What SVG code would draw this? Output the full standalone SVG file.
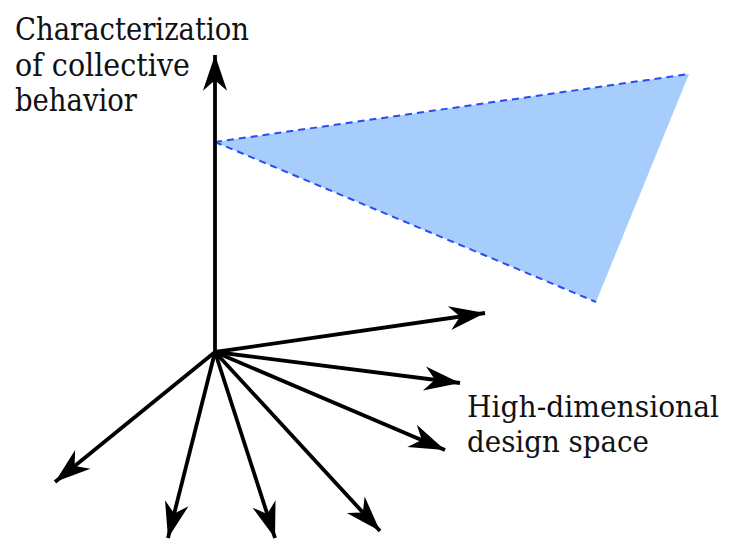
<svg xmlns="http://www.w3.org/2000/svg" width="732" height="540" viewBox="0 0 732 540">
<style>
.lbl{font-family:"DejaVu Serif","Liberation Serif",serif;font-size:31px;fill:#111}
.lbl2{font-family:"DejaVu Serif","Liberation Serif",serif;font-size:29px;fill:#111}
.ax{stroke:#000;stroke-width:3.8;fill:none;marker-end:url(#ah)}
.dash{stroke:#2a4cf0;stroke-width:2;stroke-dasharray:7 5;fill:none}
</style>
<defs>
<marker id="ah" markerUnits="userSpaceOnUse" markerWidth="40" markerHeight="30" viewBox="-36 -13 38 26" refX="0" refY="0" orient="auto">
<path d="M0,0 L-34,-11.5 L-24,0 L-34,11.5 Z" fill="#000"/>
</marker>
</defs>
<g id="plane">
<polygon points="215,142 689,74 596,302" fill="#a6cdfc"/>
<line class="dash" x1="215" y1="142" x2="689" y2="74"/>
<line class="dash" x1="215" y1="142" x2="596" y2="302"/>
</g>
<g id="connectors">
<line class="ax" x1="215" y1="352" x2="215" y2="55"/>
<line class="ax" x1="215" y1="352" x2="485" y2="313"/>
<line class="ax" x1="215" y1="352" x2="460" y2="383"/>
<line class="ax" x1="215" y1="352" x2="445" y2="450"/>
<line class="ax" x1="215" y1="352" x2="55" y2="482"/>
<line class="ax" x1="215" y1="352" x2="168" y2="538"/>
<line class="ax" x1="215" y1="352" x2="275" y2="538"/>
<line class="ax" x1="215" y1="352" x2="380" y2="531"/>
</g>
<g id="label-behavior">
<text class="lbl" x="15" y="40" textLength="234" lengthAdjust="spacingAndGlyphs">Characterization</text>
<text class="lbl" x="15" y="76" textLength="175" lengthAdjust="spacingAndGlyphs">of collective</text>
<text class="lbl" x="15" y="111" textLength="122" lengthAdjust="spacingAndGlyphs">behavior</text>
</g>
<g id="label-design">
<text class="lbl2" x="467" y="417" textLength="252" lengthAdjust="spacingAndGlyphs">High-dimensional</text>
<text class="lbl2" x="467" y="452" textLength="182" lengthAdjust="spacingAndGlyphs">design space</text>
</g>
</svg>
